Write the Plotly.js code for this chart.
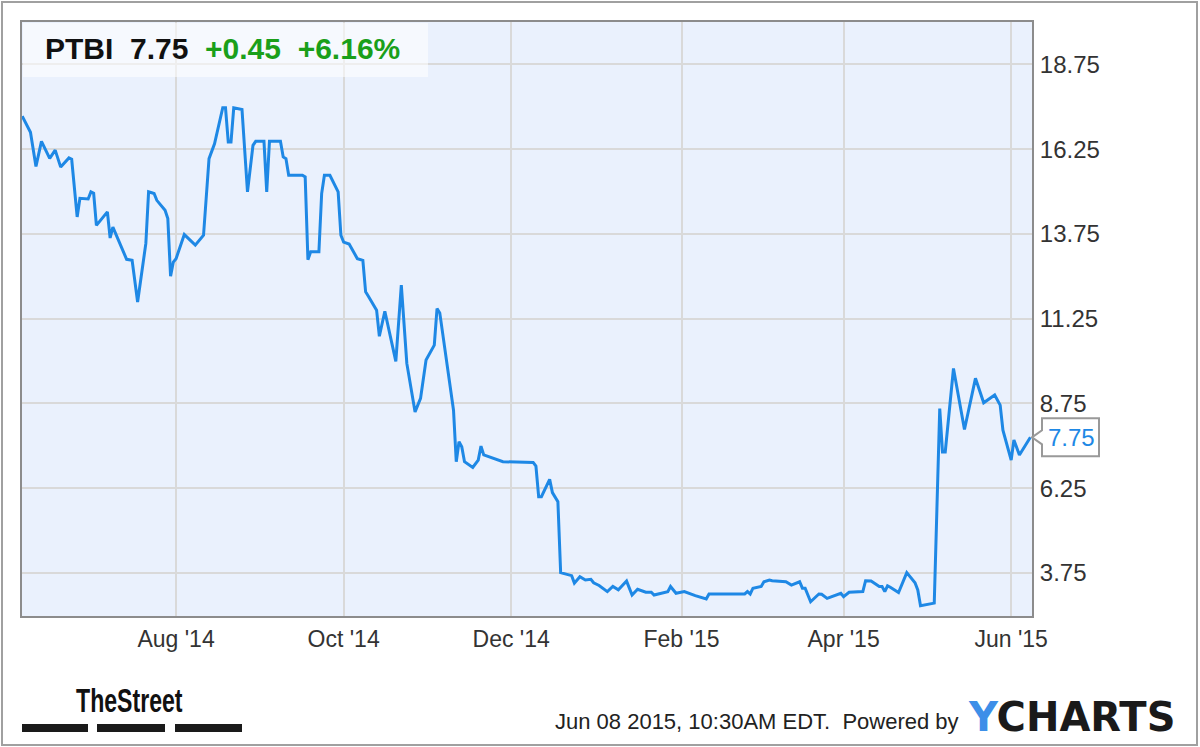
<!DOCTYPE html>
<html>
<head>
<meta charset="utf-8">
<script src="https://cdn.plot.ly/plotly-3.0.1.min.js"></script>
<style>
  html, body { margin: 0; padding: 0; background: #ffffff; }
  #chart { width: 1200px; height: 747px; }
  .narrow-logo { transform-box: fill-box; transform-origin: 0% 50%; transform: scaleX(0.7); }
</style>
</head>
<body>
<div id="chart"></div>
<script>
// ---- Data ----
const dates = [
  '2014-06-06','2014-06-09','2014-06-11','2014-06-13','2014-06-16','2014-06-18','2014-06-20','2014-06-23','2014-06-24','2014-06-26',
  '2014-06-27','2014-06-30','2014-07-01','2014-07-02','2014-07-03','2014-07-07','2014-07-08','2014-07-09','2014-07-14','2014-07-16',
  '2014-07-18','2014-07-21','2014-07-22','2014-07-24','2014-07-25','2014-07-28','2014-07-29','2014-07-30','2014-07-31','2014-08-01',
  '2014-08-04','2014-08-08','2014-08-11','2014-08-13','2014-08-15','2014-08-18','2014-08-19','2014-08-20','2014-08-21','2014-08-22',
  '2014-08-25','2014-08-27','2014-08-29','2014-08-30','2014-09-02','2014-09-03','2014-09-04','2014-09-08','2014-09-09','2014-09-10',
  '2014-09-11','2014-09-16','2014-09-17','2014-09-18','2014-09-19','2014-09-22','2014-09-23','2014-09-24','2014-09-26','2014-09-29',
  '2014-09-30','2014-10-01','2014-10-03','2014-10-06','2014-10-08','2014-10-09','2014-10-10','2014-10-13','2014-10-14','2014-10-16',
  '2014-10-20','2014-10-22','2014-10-24','2014-10-27','2014-10-29','2014-10-31','2014-11-03','2014-11-04','2014-11-05','2014-11-10',
  '2014-11-11','2014-11-12','2014-11-13','2014-11-14','2014-11-17','2014-11-19','2014-11-20','2014-11-21','2014-11-28','2014-12-09',
  '2014-12-10','2014-12-11','2014-12-12','2014-12-15','2014-12-16','2014-12-18','2014-12-19','2014-12-21','2014-12-23','2014-12-24',
  '2014-12-26','2014-12-28','2014-12-30','2014-12-31','2015-01-02','2015-01-05','2015-01-07','2015-01-09','2015-01-12','2015-01-14',
  '2015-01-16','2015-01-19','2015-01-21','2015-01-22','2015-01-27','2015-01-28','2015-01-30','2015-02-02','2015-02-04','2015-02-06',
  '2015-02-10','2015-02-11','2015-02-24','2015-02-25','2015-02-26','2015-02-27','2015-03-02','2015-03-03','2015-03-05','2015-03-06',
  '2015-03-11','2015-03-13','2015-03-16','2015-03-17','2015-03-18','2015-03-20','2015-03-23','2015-03-24','2015-03-26','2015-03-29',
  '2015-03-31','2015-04-01','2015-04-03','2015-04-08','2015-04-09','2015-04-11','2015-04-14','2015-04-15','2015-04-16','2015-04-17',
  '2015-04-18','2015-04-21','2015-04-24','2015-04-27','2015-04-28','2015-04-29','2015-05-04','2015-05-06','2015-05-07','2015-05-08',
  '2015-05-11','2015-05-15','2015-05-19','2015-05-22','2015-05-26','2015-05-28','2015-05-29','2015-06-01','2015-06-02','2015-06-04',
  '2015-06-08'
];
const prices = [
  17.22,16.75,15.74,16.48,15.98,16.22,15.72,15.99,15.95,14.25,
  14.80,14.78,14.99,14.95,14.00,14.40,13.63,13.95,13.00,12.97,
  11.74,13.47,14.99,14.94,14.74,14.45,14.20,12.50,12.92,13.02,
  13.73,13.42,13.71,15.97,16.41,17.47,17.47,16.46,16.46,17.47,
  17.42,14.99,16.36,16.48,16.48,14.99,16.48,16.48,16.02,15.97,
  15.48,15.48,15.43,12.99,13.22,13.22,14.94,15.48,15.48,14.99,
  13.71,13.51,13.45,13.02,12.97,12.04,11.91,11.50,10.73,11.47,
  9.99,12.24,9.93,8.50,8.90,10.03,10.47,11.55,11.42,8.55,
  7.03,7.62,7.47,7.03,6.86,7.08,7.49,7.23,7.03,7.01,
  6.90,6.00,6.00,6.51,6.12,5.85,3.76,3.72,3.67,3.45,
  3.64,3.54,3.56,3.46,3.38,3.20,3.35,3.25,3.51,3.10,
  3.27,3.18,3.18,3.10,3.20,3.35,3.15,3.20,3.13,3.08,
  2.98,3.13,3.13,3.20,3.13,3.30,3.35,3.49,3.54,3.52,
  3.49,3.39,3.49,3.30,3.30,2.90,3.13,3.12,3.00,3.10,
  3.15,3.05,3.18,3.20,3.52,3.51,3.35,3.35,3.20,3.37,
  3.33,3.17,3.76,3.46,3.25,2.78,2.86,8.60,7.32,7.32,
  9.78,7.98,9.49,8.77,9.00,8.70,7.96,7.08,7.67,7.23,
  7.75
];
const xTickVals = ['2014-08-01','2014-10-01','2014-12-01','2015-02-01','2015-04-01','2015-06-01'];
const xTickText = ["Aug '14","Oct '14","Dec '14","Feb '15","Apr '15","Jun '15"];
const yTickVals = [3.75, 6.25, 8.75, 11.25, 13.75, 16.25, 18.75];
const yTickText = ['3.75','6.25','8.75','11.25','13.75','16.25','18.75'];
const ticker = 'PTBI';
const lastPrice = '7.75';
const change = '+0.45';
const changePct = '+6.16%';
const footerText = 'Jun 08 2015, 10:30AM EDT.  Powered by';

// ---- Layout helpers ----
const W = 1200, H = 747;
const M = {l: 22, r: 168, t: 22, b: 131};
const PW = W - M.l - M.r, PH = H - M.t - M.b;
const px = x => (x - M.l) / PW;          // pixel x -> paper
const py = y => (H - M.b - y) / PH;      // pixel y -> paper
const yRange = [2.48, 20.0];
const lineColor = '#1e88e5';
const green = '#1a9f1a';
const FONT = 'Liberation Sans, Arial, sans-serif';

const lastVal = prices[prices.length - 1];
const lastYPaper = (lastVal - yRange[0]) / (yRange[1] - yRange[0]);

const trace = {
  x: dates, y: prices, type: 'scatter', mode: 'lines',
  line: {color: lineColor, width: 3},
  hoverinfo: 'x+y', cliponaxis: true
};

const shapes = [
  {type: 'rect', xref: 'paper', yref: 'paper', x0: px(2), x1: px(1197), y0: py(745), y1: py(2),
   line: {color: '#a0a0a0', width: 2}, fillcolor: 'rgba(0,0,0,0)', layer: 'below'},
  {type: 'rect', xref: 'paper', yref: 'paper', x0: px(23), x1: px(428), y0: py(77), y1: py(23),
   line: {width: 0}, fillcolor: 'rgba(255,255,255,0.55)', layer: 'above'},
  {type: 'path', xref: 'paper', yref: 'paper', xsizemode: 'pixel', ysizemode: 'pixel',
   xanchor: 1, yanchor: lastYPaper,
   path: 'M 10 19 L 67 19 L 67 -19 L 10 -19 L 10 -7 L 0 0 L 10 7 Z',
   line: {color: '#999999', width: 2}, fillcolor: '#ffffff', layer: 'above'},
  {type: 'rect', xref: 'paper', yref: 'paper', x0: px(22), x1: px(88), y0: py(732), y1: py(724),
   line: {width: 0}, fillcolor: '#1a1a1a'},
  {type: 'rect', xref: 'paper', yref: 'paper', x0: px(97), x1: px(165), y0: py(732), y1: py(724),
   line: {width: 0}, fillcolor: '#1a1a1a'},
  {type: 'rect', xref: 'paper', yref: 'paper', x0: px(175), x1: px(242), y0: py(732), y1: py(724),
   line: {width: 0}, fillcolor: '#1a1a1a'}
];

const annotations = [
  {xref: 'paper', yref: 'paper', x: px(43), y: py(49), xanchor: 'left', yanchor: 'middle', showarrow: false,
   text: '<b>' + ticker + '&nbsp;&nbsp;' + lastPrice + '&nbsp;&nbsp;<span style="color:' + green + '">' + change +
         '&nbsp;&nbsp;' + changePct + '</span></b>',
   font: {family: FONT, size: 30, color: '#111111'}},
  {xref: 'paper', yref: 'paper', x: 1, y: lastYPaper, xanchor: 'center', yanchor: 'middle', xshift: 39, showarrow: false,
   text: lastVal.toFixed(2), font: {family: FONT, size: 24, color: lineColor}},
  {xref: 'paper', yref: 'paper', x: px(74), y: py(700), xanchor: 'left', yanchor: 'middle', showarrow: false,
   text: '<b>TheStreet</b>', font: {family: FONT, size: 33, color: '#111111'}},
  {xref: 'paper', yref: 'paper', x: px(961), y: py(721), xanchor: 'right', yanchor: 'middle', showarrow: false,
   text: footerText.replace(/  /g, ' &nbsp;'), font: {family: FONT, size: 22, color: '#222222'}},
  {xref: 'paper', yref: 'paper', x: px(966), y: py(717), xanchor: 'left', yanchor: 'middle', showarrow: false,
   text: '<b><span style="color:#3d8fe8">Y</span>CHARTS</b>', font: {family: 'DejaVu Sans, sans-serif', size: 40, color: '#1a1a1a'}}
];

const layout = {
  width: W, height: H,
  margin: M,
  paper_bgcolor: '#ffffff',
  plot_bgcolor: '#eaf1fd',
  showlegend: false,
  font: {family: FONT, size: 24, color: '#333333'},
  xaxis: {
    type: 'date',
    range: ['2014-06-05 22:00', '2015-06-08 14:00'],
    tickmode: 'array', tickvals: xTickVals, ticktext: xTickText,
    showgrid: true, gridcolor: '#d9d9d9', gridwidth: 2,
    showline: true, linecolor: '#8c8c8c', linewidth: 2, mirror: true,
    ticks: 'outside', ticklen: 1, tickcolor: 'rgba(0,0,0,0)',
    tickfont: {family: FONT, size: 23, color: '#333333'},
    zeroline: false, fixedrange: true
  },
  yaxis: {
    side: 'right',
    range: yRange,
    tickmode: 'array', tickvals: yTickVals, ticktext: yTickText,
    showgrid: true, gridcolor: '#d9d9d9', gridwidth: 2,
    showline: true, linecolor: '#8c8c8c', linewidth: 2, mirror: true,
    ticks: 'outside', ticklen: 1, tickcolor: 'rgba(0,0,0,0)',
    tickfont: {family: FONT, size: 24, color: '#333333'},
    zeroline: false, fixedrange: true
  },
  shapes: shapes,
  annotations: annotations
};

Plotly.newPlot('chart', [trace], layout, {displayModeBar: false, staticPlot: true}).then(function () {
  // condense the "TheStreet" wordmark horizontally, like the original logo
  document.querySelectorAll('.annotation-text').forEach(function (t) {
    if (t.textContent === 'TheStreet') t.classList.add('narrow-logo');
  });
});
</script>
</body>
</html>
